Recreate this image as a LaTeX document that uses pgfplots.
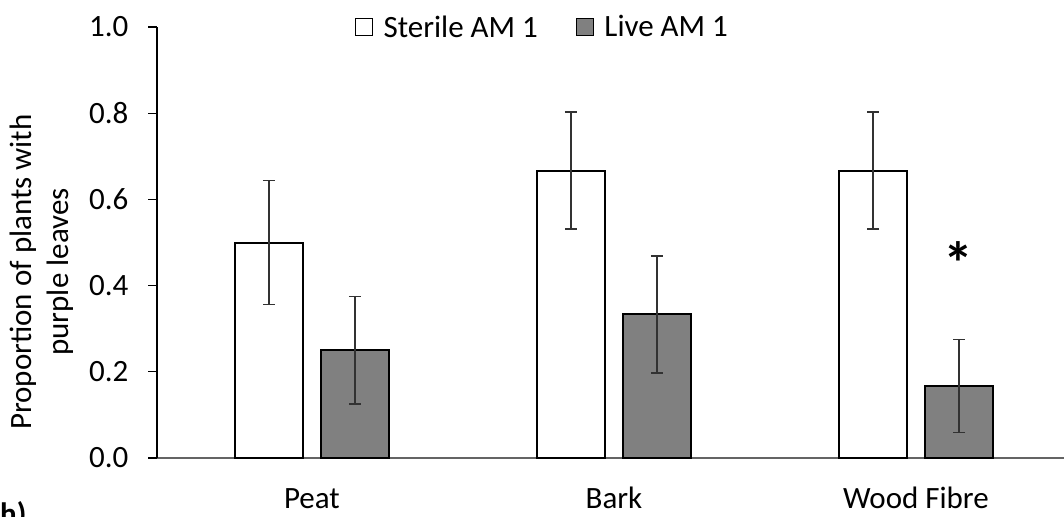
\documentclass[border=0pt]{standalone}
\usepackage{fontspec}
\setmainfont{Carlito}
\usepackage{pgfplots}
\pgfplotsset{compat=1.18}
\definecolor{barGray}{RGB}{128,128,128}
\definecolor{axGray}{RGB}{100,100,100}
\definecolor{errGray}{RGB}{50,50,50}
\begin{document}
\begin{tikzpicture}
\path[use as bounding box] (0pt,0pt) rectangle (1064pt,-516pt);
\begin{axis}[
  at={(157pt,-458pt)}, anchor=south west,
  scale only axis, width=907pt, height=431pt,
  xmin=-0.513, xmax=2.490, ymin=0, ymax=1,
  axis x line=bottom, axis y line=left, axis line style={-},
  x axis line style={draw=axGray, line width=1.5pt},
  y axis line style={draw=black, line width=1.2pt},
  xtick={0,1,2}, xticklabels={Peat,Bark,Wood Fibre},
  major x tick style={draw=none},
  ytick={0,0.2,0.4,0.6,0.8,1},
  yticklabels={0.0,0.2,0.4,0.6,0.8,1.0},
  tick align=outside, major tick length=9pt,
  y tick style={draw=black, line width=1.2pt},
  ticklabel style={font=\fontsize{31}{37}\selectfont},
  xticklabel style={anchor=base, yshift=-41pt},
  yticklabel style={anchor=east, xshift=-16pt},
  ylabel={Proportion of plants with\\purple leaves},
  ylabel style={at={(axis description cs:-0.127,0.4316)}, anchor=center, align=center, font=\fontsize{31}{36.5}\selectfont},
  ybar=18pt, bar width=68pt,
  legend style={at={(axis description cs:0.218,1.0)}, anchor=west, draw=none, fill=none, inner sep=0pt, legend columns=2, font=\fontsize{31}{37}\selectfont, /tikz/every even column/.append style={column sep=36pt}},
  legend image code/.code={\draw[#1,line width=1.2pt] (0pt,-8.5pt) rectangle (17pt,8.5pt); \path (25pt,0pt);},
  clip=false,
]
\addplot[fill=white, draw=black, line width=2pt,
  error bars/.cd, y dir=both, y explicit, error mark=|,
  error bar style={line width=1.3pt, draw=errGray},
  error mark options={line width=1.3pt, mark size=6pt, draw=errGray}]
  coordinates {(0,0.5) +- (0,0.144) (1,0.667) +- (0,0.136) (2,0.667) +- (0,0.136)};
\addlegendentry{Sterile AM 1}
\addplot[fill=barGray, draw=black, line width=2pt,
  error bars/.cd, y dir=both, y explicit, error mark=|,
  error bar style={line width=1.3pt, draw=errGray},
  error mark options={line width=1.3pt, mark size=6pt, draw=errGray}]
  coordinates {(0,0.25) +- (0,0.125) (1,0.333) +- (0,0.136) (2,0.167) +- (0,0.108)};
\addlegendentry{Live AM 1}
\node[font=\bfseries\fontsize{60}{64}\selectfont, inner sep=0pt] at (axis cs:2.142,0.4515) {*};
\end{axis}
\node[anchor=base west, inner sep=0pt, font=\bfseries\fontsize{31}{37}\selectfont] at (0pt,-524pt) {h)};
\end{tikzpicture}
\end{document}
